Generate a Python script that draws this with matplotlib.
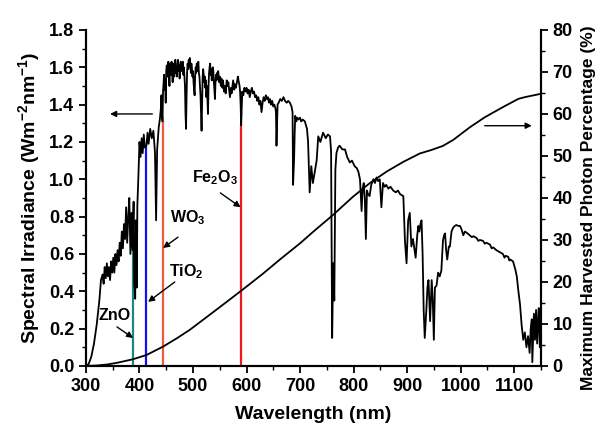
import matplotlib.pyplot as plt
from matplotlib.ticker import MultipleLocator

plt.rcParams['font.family'] = ['Liberation Sans', 'DejaVu Sans']
plt.rcParams['font.weight'] = 'bold'
plt.rcParams['mathtext.fontset'] = 'custom'
plt.rcParams['mathtext.rm'] = 'Liberation Sans:bold'
plt.rcParams['mathtext.bf'] = 'Liberation Sans:bold'
plt.rcParams['mathtext.default'] = 'rm'

# AM1.5 solar spectrum (nm, W m^-2 nm^-1)
wavelength = [
    300, 305, 310, 315, 320, 325, 328, 331, 333, 335, 337, 339, 341, 343, 345, 347, 349, 351, 353, 355,
    357, 359, 361, 363, 365, 367, 369, 371, 373, 375, 377, 379, 381, 383, 385, 387, 389, 390, 392, 393,
    395, 396, 398, 400, 402, 404, 406, 408, 410, 413, 415, 417, 420, 423, 426, 429, 431, 433, 436, 438,
    440, 441, 442, 443, 444, 445, 446, 447, 448, 449, 450, 451, 452, 453, 454, 455, 456, 457, 458, 459,
    460, 461, 462, 463, 464, 465, 466, 467, 468, 469, 470, 471, 472, 473, 474, 475, 476, 477, 478, 479,
    480, 481, 482, 483, 484, 485, 486, 487, 488, 489, 490, 491, 492, 493, 494, 495, 496, 497, 498, 499,
    500, 501, 502, 503, 504, 505, 506, 507, 508, 509, 510, 511, 512, 513, 514, 515, 516, 517, 518, 519,
    520, 521, 522, 523, 524, 525, 526, 527, 528, 529, 530, 531, 532, 533, 534, 535, 536, 537, 538, 539,
    540, 541, 542, 543, 544, 545, 546, 547, 548, 549, 550, 552, 553, 555, 556, 558, 560, 561, 563, 565,
    566, 568, 569, 571, 572, 574, 575, 577, 578, 580, 582, 584, 585, 587, 588, 589, 590, 591, 592, 594,
    596, 598, 600, 602, 604, 606, 608, 610, 612, 614, 616, 618, 620, 622, 624, 626, 628, 630, 632, 634,
    636, 638, 640, 642, 644, 646, 648, 650, 652, 654, 655, 656, 657, 658, 660, 663, 666, 669, 672, 675,
    678, 681, 684, 686, 687, 688, 689, 690, 691, 693, 695, 697, 700, 702, 705, 709, 713, 715, 718, 721,
    724, 728, 731, 734, 738, 743, 748, 752, 756, 758, 760, 762, 764, 766, 768, 771, 774, 779, 784, 788,
    793, 797, 802, 806, 809, 812, 815, 817, 819, 821, 823, 825, 827, 830, 833, 837, 840, 843, 846, 849,
    852, 855, 858, 861, 865, 869, 874, 879, 883, 887, 893, 896, 899, 902, 905, 908, 911, 914, 916, 919,
    921, 923, 925, 927, 929, 931, 933, 936, 938, 940, 943, 946, 948, 950, 952, 955, 958, 961, 964, 967,
    969, 971, 973, 975, 978, 980, 983, 986, 989, 992, 996, 999, 1002, 1005, 1008, 1013, 1017, 1021, 1024, 1030,
    1033, 1036, 1042, 1045, 1048, 1055, 1058, 1061, 1067, 1070, 1073, 1079, 1082, 1084, 1089, 1091, 1093, 1098, 1102, 1105,
    1108, 1111, 1114, 1117, 1120, 1123, 1126, 1129, 1131, 1133, 1134, 1136, 1137, 1139, 1141, 1143, 1145, 1146, 1148, 1150,
]
irradiance = [
    0.0, 0.01, 0.05, 0.12, 0.22, 0.35, 0.46, 0.49, 0.44, 0.53, 0.47, 0.55, 0.48, 0.53, 0.46, 0.56, 0.50, 0.58, 0.50, 0.60,
    0.54, 0.62, 0.56, 0.66, 0.59, 0.72, 0.63, 0.76, 0.68, 0.85, 0.66, 0.80, 0.90, 0.60, 0.82, 0.62, 0.88, 0.45, 0.36, 0.78,
    0.42, 0.86, 1.02, 1.20, 1.12, 1.22, 1.14, 1.24, 1.17, 1.18, 1.25, 1.19, 1.27, 1.22, 1.26, 1.14, 0.78, 1.16, 1.28, 1.32,
    1.38, 1.45, 1.36, 1.31, 1.47, 1.52, 1.56, 1.48, 1.53, 1.41, 1.58, 1.61, 1.55, 1.60, 1.63, 1.57, 1.50, 1.60, 1.62, 1.56,
    1.63, 1.58, 1.52, 1.59, 1.62, 1.55, 1.61, 1.64, 1.57, 1.60, 1.55, 1.62, 1.64, 1.58, 1.61, 1.54, 1.60, 1.63, 1.58, 1.62,
    1.59, 1.63, 1.56, 1.60, 1.55, 1.50, 1.35, 1.27, 1.45, 1.58, 1.62, 1.59, 1.64, 1.60, 1.65, 1.61, 1.57, 1.62, 1.59, 1.55,
    1.58, 1.52, 1.48, 1.45, 1.55, 1.60, 1.57, 1.62, 1.58, 1.61, 1.63, 1.57, 1.55, 1.50, 1.45, 1.35, 1.26, 1.40, 1.55, 1.59,
    1.56, 1.52, 1.55, 1.49, 1.53, 1.44, 1.50, 1.42, 1.35, 1.50, 1.57, 1.60, 1.62, 1.56, 1.59, 1.53, 1.57, 1.60, 1.58, 1.52,
    1.48, 1.43, 1.52, 1.56, 1.53, 1.57, 1.54, 1.58, 1.55, 1.52, 1.55, 1.50, 1.54, 1.49, 1.53, 1.47, 1.50, 1.46, 1.53, 1.50,
    1.52, 1.47, 1.44, 1.49, 1.46, 1.51, 1.53, 1.48, 1.51, 1.49, 1.52, 1.55, 1.53, 1.50, 1.47, 1.40, 1.29, 1.38, 1.47, 1.45,
    1.49, 1.47, 1.49, 1.46, 1.48, 1.44, 1.47, 1.49, 1.46, 1.47, 1.44, 1.45, 1.42, 1.44, 1.40, 1.42, 1.36, 1.41, 1.44, 1.42,
    1.45, 1.43, 1.44, 1.41, 1.43, 1.40, 1.42, 1.39, 1.40, 1.38, 1.36, 1.18, 1.30, 1.40, 1.41, 1.43, 1.42, 1.44, 1.42, 1.41,
    1.42, 1.41, 1.39, 1.36, 0.97, 1.05, 1.12, 1.25, 1.34, 1.31, 1.33, 1.32, 1.33, 1.31, 1.32, 1.31, 1.27, 1.20, 0.93, 1.07,
    0.98, 1.05, 1.10, 1.23, 1.20, 1.25, 1.22, 1.24, 1.23, 1.15, 0.15, 0.55, 0.35, 1.05, 1.14, 1.17, 1.18, 1.16, 1.16, 1.12,
    1.09, 1.10, 1.07, 1.06, 1.04, 1.00, 0.83, 0.95, 0.98, 0.90, 0.68, 0.94, 0.92, 0.91, 0.97, 1.00, 0.98, 1.01, 0.99, 1.00,
    0.85, 0.98, 0.96, 0.97, 0.95, 0.96, 0.94, 0.93, 0.94, 0.92, 0.91, 0.67, 0.55, 0.78, 0.82, 0.64, 0.68, 0.62, 0.58, 0.70,
    0.75, 0.72, 0.76, 0.78, 0.60, 0.30, 0.15, 0.30, 0.42, 0.46, 0.24, 0.46, 0.35, 0.14, 0.42, 0.43, 0.50, 0.48, 0.51, 0.67,
    0.70, 0.71, 0.62, 0.57, 0.64, 0.64, 0.72, 0.74, 0.75, 0.755, 0.75, 0.75, 0.73, 0.70, 0.72, 0.71, 0.70, 0.69, 0.695, 0.685,
    0.67, 0.675, 0.67, 0.655, 0.66, 0.65, 0.63, 0.635, 0.62, 0.615, 0.61, 0.60, 0.58, 0.59, 0.585, 0.565, 0.57, 0.56, 0.52, 0.48,
    0.40, 0.33, 0.22, 0.14, 0.18, 0.10, 0.16, 0.07, 0.20, 0.25, 0.02, 0.20, 0.28, 0.14, 0.30, 0.12, 0.26, 0.31, 0.10, 0.25,
]

# cumulative photon percentage harvested up to a given absorption edge
cum_wavelength = [300, 320, 340, 360, 388, 413, 444, 470, 494, 520, 550, 590, 631, 662, 700, 725,
                  762, 799, 830, 862, 893, 924, 945, 967, 986, 1017, 1045, 1080, 1108, 1120, 1135, 1150]
cum_percent = [0, 0.1, 0.35, 0.8, 1.6, 2.6, 4.6, 6.6, 8.6, 11.1, 14.0, 17.9, 22.0, 25.3, 29.2, 32.0,
               36.0, 40.3, 43.5, 46.3, 48.6, 50.6, 51.4, 52.4, 53.8, 56.8, 59.2, 61.7, 63.6, 64.0, 64.4, 64.8]

# band-gap absorption edges of the photoanode materials
materials = ['ZnO', 'TiO$_2$', 'WO$_3$', 'Fe$_2$O$_3$']
edge_nm = [387, 413, 443, 590]
edge_irr = [0.62, 1.18, 1.31, 1.29]
edge_colors = ['#1a8a80', '#1010f0', '#f25a3c', '#f01818']
label_pos = [(354, 0.268), (487, 0.504), (490, 0.793), (541, 1.007)]
arrow_from = [(358, 0.209), (466, 0.45), (472, 0.69), (551, 0.927)]
arrow_to = [(388, 0.15), (416, 0.343), (444, 0.632), (589, 0.85)]

fig, ax = plt.subplots(figsize=(5.97, 4.28), dpi=100)
fig.subplots_adjust(left=0.144, right=0.906, bottom=0.145, top=0.93)

for nm, top, c in zip(edge_nm, edge_irr, edge_colors):
    ax.vlines(nm, 0, top, color=c, lw=1.6, zorder=2)

ax.plot(wavelength, irradiance, color='black', lw=1.3, zorder=3)

arrow_kw = dict(arrowstyle='-|>', color='black', lw=1.0, mutation_scale=9, shrinkA=0, shrinkB=0)
for name, (tx, ty), start, end in zip(materials, label_pos, arrow_from, arrow_to):
    ax.text(tx, ty, name, fontsize=11.5, fontweight='bold', ha='center', va='center')
    ax.annotate('', xy=end, xytext=start, arrowprops=arrow_kw)

ax.annotate('', xy=(345, 1.35), xytext=(424, 1.35), arrowprops=arrow_kw)

ax.set_xlim(300, 1150)
ax.set_ylim(0, 1.8)
ax.xaxis.set_major_locator(MultipleLocator(100))
ax.xaxis.set_minor_locator(MultipleLocator(50))
ax.yaxis.set_major_locator(MultipleLocator(0.2))
ax.yaxis.set_minor_locator(MultipleLocator(0.1))
ax.yaxis.set_major_formatter(plt.FormatStrFormatter('%.1f'))
ax.set_xlabel('Wavelength (nm)', fontsize=14, fontweight='bold', labelpad=8)
ax.set_ylabel('Spectral Irradiance (Wm$^{-2}$nm$^{-1}$)', fontsize=14, fontweight='bold', labelpad=5)

ax2 = ax.twinx()
ax2.plot(cum_wavelength, cum_percent, color='black', lw=1.3)
ax2.annotate('', xy=(1133, 57.2), xytext=(1045, 57.2), arrowprops=arrow_kw)
ax2.set_ylim(0, 80)
ax2.yaxis.set_major_locator(MultipleLocator(10))
ax2.yaxis.set_minor_locator(MultipleLocator(5))
ax2.set_ylabel('Maximum Harvested Photon Percentage (%)', fontsize=12.5, fontweight='bold')
ax2.yaxis.set_label_coords(1.089, 0.47)

for a in (ax, ax2):
    a.spines['top'].set_visible(False)
    for s in a.spines.values():
        s.set_linewidth(1.5)
    a.tick_params(which='major', length=5, width=1.3, labelsize=13, direction='out')
    a.tick_params(which='minor', length=3, width=1.0, direction='out')
    for lab in a.get_xticklabels() + a.get_yticklabels():
        lab.set_fontweight('bold')

fig.savefig('out.png', dpi=100)
